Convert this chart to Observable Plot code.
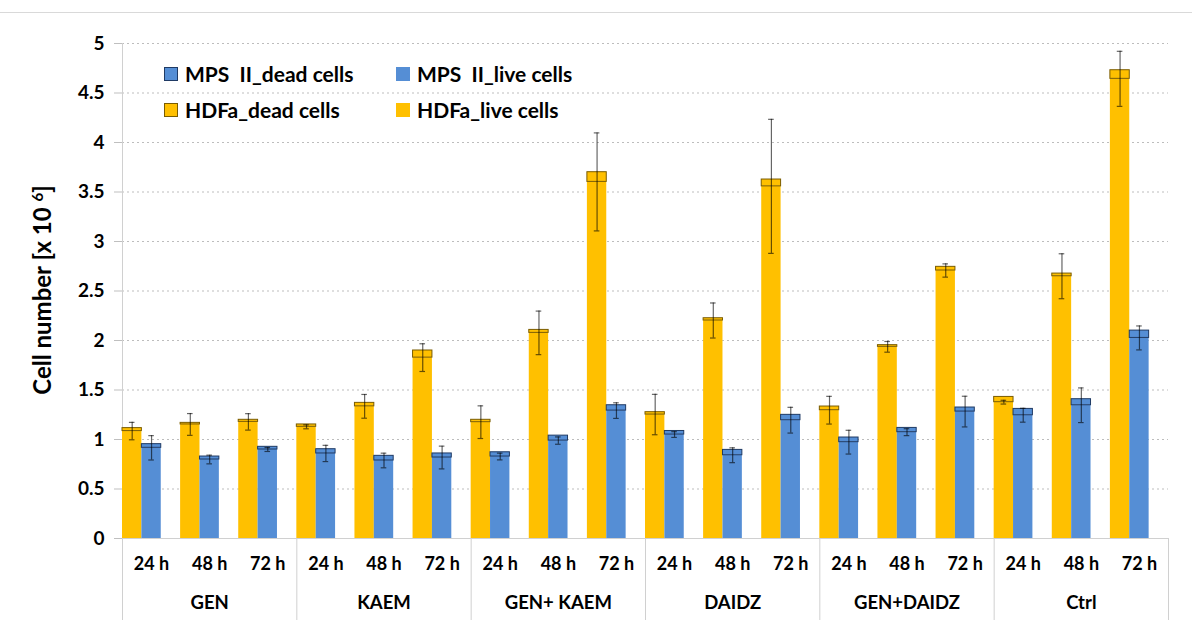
<!DOCTYPE html>
<html><head><meta charset="utf-8">
<script src="https://cdn.jsdelivr.net/npm/d3@7"></script>
<script src="https://cdn.jsdelivr.net/npm/@observablehq/plot@0.6"></script>
<style>
body{margin:0;background:#fff;}
#wrap{position:relative;width:1192px;height:627px;overflow:hidden;background:#fff;font-family:Lato,"Open Sans",sans-serif;}
#topline{position:absolute;left:0;top:12px;width:1192px;height:1px;background:#d9d9d9;}
.lg{position:absolute;font:bold 21px Lato,"Open Sans",sans-serif;white-space:pre;color:#000;line-height:20px;}
.sw{position:absolute;width:14px;height:14px;box-sizing:border-box;}
#ytitle{position:absolute;left:42px;top:290px;transform:translate(-50%,-50%) rotate(-90deg);font:bold 24px Lato,"Open Sans",sans-serif;white-space:nowrap;color:#000;line-height:24px;}
#ytitle sup{font-size:15px;vertical-align:8px;line-height:0;}
svg{position:absolute;left:0;top:0;}
</style></head>
<body><div id="wrap"><div id="topline"></div></div>
<script>
// ---- data ----
const groups = ["GEN", "KAEM", "GEN+ KAEM", "DAIDZ", "GEN+DAIDZ", "Ctrl"];
const times = ["24 h", "48 h", "72 h"];
const yTicks = [0, 0.5, 1, 1.5, 2, 2.5, 3, 3.5, 4, 4.5, 5];

const hdfaLive = [1.085, 1.152, 1.178, 1.128, 1.335, 1.827, 1.175, 2.077, 3.602, 1.252, 2.202, 3.557, 1.296, 1.936, 2.707, 1.377, 2.649, 4.643];
const hdfaDead = [0.030, 0.016, 0.021, 0.024, 0.035, 0.072, 0.024, 0.030, 0.098, 0.024, 0.023, 0.069, 0.037, 0.017, 0.037, 0.053, 0.027, 0.087];
const hdfaErr  = [0.088, 0.110, 0.083, 0.020, 0.120, 0.140, 0.165, 0.220, 0.495, 0.204, 0.177, 0.677, 0.140, 0.054, 0.067, 0.019, 0.227, 0.278];

const mpsLive = [0.916, 0.798, 0.899, 0.859, 0.788, 0.818, 0.828, 0.989, 1.292, 1.050, 0.841, 1.195, 0.973, 1.074, 1.282, 1.245, 1.346, 2.026];
const mpsDead = [0.037, 0.030, 0.027, 0.043, 0.047, 0.041, 0.043, 0.050, 0.054, 0.036, 0.054, 0.054, 0.047, 0.043, 0.041, 0.064, 0.061, 0.074];
const mpsErr  = [0.123, 0.044, 0.020, 0.082, 0.074, 0.115, 0.034, 0.037, 0.079, 0.029, 0.075, 0.130, 0.120, 0.035, 0.155, 0.070, 0.175, 0.121];

const seriesNames = ["HDFa", "MPS II"];
const seriesColors = ["#FFC000", "#558ED5"];
const seriesEdge = ["#7a5c00", "#1f3a64"];
const legendLabels = [["MPS  II_dead cells", 1, true], ["MPS  II_live cells", 1, false], ["HDFa_dead cells", 0, true], ["HDFa_live cells", 0, false]];
const yTitle = "Cell number [x 10 ";
const yTitleSup = "6";

// ---- table ----
const rows = [];
for (let i = 0; i < 18; i++) {
  [[hdfaLive, hdfaDead, hdfaErr], [mpsLive, mpsDead, mpsErr]].forEach(([L, D, E], s) => {
    const x1 = i + s / 3;
    rows.push({series: seriesNames[s], s, x1, x2: x1 + 1 / 3, xc: x1 + 1 / 6, live: L[i], dead: D[i], err: E[i]});
  });
}

const W = 1192, H = 627, mL = 122, mR = 24, mT = 43, mB = 89;
const unit = (W - mL - mR) / 18;
const cap = 2.8 / unit;
const capRows = rows.flatMap(d => [{...d, y: d.live - d.err}, {...d, y: d.live + d.err}]);

const font = "Lato, 'Open Sans', sans-serif";
const chart = Plot.plot({
  width: W, height: H, marginLeft: mL, marginRight: mR, marginTop: mT, marginBottom: mB,
  style: {fontFamily: font, fontWeight: "bold", background: "transparent"},
  x: {domain: [0, 18]},
  y: {domain: [0, 5]},
  color: {domain: seriesNames, range: seriesColors},
  marks: [
    Plot.gridY({ticks: yTicks.slice(1), stroke: "#bdbdbd", strokeOpacity: 1, strokeDasharray: "2,3"}),
    Plot.axisY({ticks: yTicks, tickFormat: d => String(d), tickSize: 8, tickPadding: 10, stroke: "#bfbfbf", fill: "#000", fontSize: 19, fontWeight: "bold", label: null}),
    Plot.axisX({ticks: d3.range(0, 19, 3), tickSize: 82, tickFormat: () => "", stroke: "#d0d0d0", label: null}),
    Plot.axisX({ticks: d3.range(18).map(i => i + 0.5), tickSize: 0, tickPadding: 19, tickFormat: d => times[Math.floor(d) % 3], fill: "#000", fontSize: 18, fontWeight: "bold", label: null}),
    Plot.axisX({ticks: groups.map((g, i) => i * 3 + 1.5), tickSize: 0, tickPadding: 57, tickFormat: d => groups[Math.floor(d / 3)], fill: "#000", fontSize: 18.5, fontWeight: "bold", label: null}),
    Plot.ruleX([0], {stroke: "#d0d0d0"}),
    Plot.ruleY([0], {stroke: "#d0d0d0"}),
    Plot.rect(rows, {x1: "x1", x2: "x2", y1: 0, y2: "live", fill: "series"}),
    Plot.rect(rows.filter(d => d.s === 0), {x1: "x1", x2: "x2", y1: "live", y2: d => d.live + d.dead, fill: "series", stroke: seriesEdge[0], strokeWidth: 1}),
    Plot.rect(rows.filter(d => d.s === 1), {x1: "x1", x2: "x2", y1: "live", y2: d => d.live + d.dead, fill: "series", stroke: seriesEdge[1], strokeWidth: 1}),
    Plot.ruleX(rows, {x: "xc", y1: d => d.live - d.err, y2: d => d.live + d.err, stroke: "#000", strokeOpacity: 0.6, strokeWidth: 1.2}),
    Plot.ruleY(capRows, {y: "y", x1: d => d.xc - cap, x2: d => d.xc + cap, stroke: "#000", strokeOpacity: 0.6, strokeWidth: 1.2})
  ]
});
const wrap = document.getElementById("wrap");
wrap.appendChild(chart);

// ---- y title ----
const yt = document.createElement("div");
yt.id = "ytitle";
yt.textContent = yTitle;
const sup = document.createElement("sup");
sup.textContent = yTitleSup;
yt.appendChild(sup);
yt.appendChild(document.createTextNode("]"));
wrap.appendChild(yt);

// ---- legend ----
const lgPos = [[164, 185, 67], [396, 417, 67], [164, 185, 103], [396, 417, 103]];
legendLabels.forEach(([label, s, dead], k) => {
  const [sx, tx, ty] = lgPos[k];
  const sw = document.createElement("div");
  sw.className = "sw";
  sw.style.left = sx + "px"; sw.style.top = ty + "px";
  sw.style.background = seriesColors[s];
  sw.style.border = "1px solid " + (dead ? seriesEdge[s] : seriesColors[s]);
  wrap.appendChild(sw);
  const t = document.createElement("div");
  t.className = "lg";
  t.style.left = tx + "px"; t.style.top = (ty - 3) + "px";
  t.textContent = label;
  wrap.appendChild(t);
});
</script></body></html>
